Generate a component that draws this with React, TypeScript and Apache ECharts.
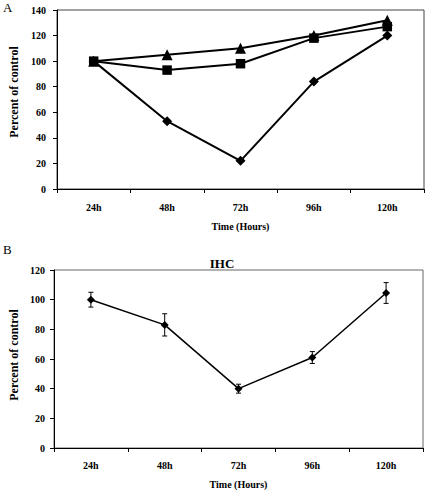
import React, { useEffect, useRef } from "react";
import * as echarts from "echarts";

const categories = ["24h", "48h", "72h", "96h", "120h"];
const diamondA = [100, 53, 22, 84, 120];
const squareA = [100, 93, 98, 118, 127];
const triangleA = [100, 105, 110, 120, 132];
const ihcMean = [100, 83, 40, 61, 104.5];
const ihcErr = [5, 7.5, 3, 4, 7];
const yTicksA = { min: 0, max: 140, interval: 20 };
const yTicksB = { min: 0, max: 120, interval: 20 };

const FONT = "'Liberation Serif', 'DejaVu Serif', serif";

export default function App() {
  const ref = useRef<HTMLDivElement>(null);
  useEffect(() => {
    if (!ref.current) return;
    const chart = echarts.init(ref.current, null, { renderer: "svg" });
    const labelStyle = { fontFamily: FONT, fontWeight: "bold" as const, fontSize: 10, color: "#000" };
    const xAxisCommon = (gridIndex: number, margin: number, gap: number) => ({
      type: "category" as const,
      gridIndex,
      data: categories,
      boundaryGap: true,
      axisLine: { show: true, lineStyle: { color: "#000", width: 1 } },
      axisTick: { show: true, length: 4, inside: false, lineStyle: { color: "#000" }, alignWithLabel: false },
      axisLabel: { ...labelStyle, margin, interval: 0 },
      name: "Time (Hours)",
      nameLocation: "middle" as const,
      nameGap: gap,
      nameTextStyle: { ...labelStyle },
    });
    const yAxisCommon = (gridIndex: number, t: any, margin: number) => ({
      type: "value" as const,
      gridIndex,
      min: t.min,
      max: t.max,
      interval: t.interval,
      axisLine: { show: true, lineStyle: { color: "#000", width: 1 } },
      axisTick: { show: true, length: 4, lineStyle: { color: "#000" } },
      axisLabel: { ...labelStyle, margin },
      splitLine: { show: false },
    });
    const errData = ihcMean.map((m, i) => [i, m - ihcErr[i], m + ihcErr[i]]);
    chart.setOption({
      animation: false,
      backgroundColor: "#fff",
      grid: [
        { left: 57, top: 10, width: 367, height: 179, show: true, borderColor: "#444", borderWidth: 1, backgroundColor: "transparent" },
        { left: 54, top: 270, width: 369, height: 179.3, show: true, borderColor: "#666", borderWidth: 1, backgroundColor: "transparent" },
      ],
      xAxis: [xAxisCommon(0, 13, 32), xAxisCommon(1, 12, 31)],
      yAxis: [yAxisCommon(0, yTicksA, 11), yAxisCommon(1, yTicksB, 9)],
      graphic: [
        { type: "text", left: 3, top: 1, style: { text: "A", fontFamily: FONT, fontSize: 13, fill: "#000" } },
        { type: "text", left: 3, top: 243, style: { text: "B", fontFamily: FONT, fontSize: 13, fill: "#000" } },
        { type: "text", x: 222, y: 263, style: { text: "IHC", fontFamily: FONT, fontWeight: "bold", fontSize: 13, fill: "#000", align: "center", verticalAlign: "middle" } },
        { type: "text", x: 14, y: 92, rotation: Math.PI / 2, style: { text: "Percent of control", fontFamily: FONT, fontWeight: "bold", fontSize: 12, fill: "#000", align: "center", verticalAlign: "middle" } },
        { type: "text", x: 13.5, y: 355, rotation: Math.PI / 2, style: { text: "Percent of control", fontFamily: FONT, fontWeight: "bold", fontSize: 12, fill: "#000", align: "center", verticalAlign: "middle" } },
      ],
      series: [
        {
          type: "line", xAxisIndex: 0, yAxisIndex: 0, data: triangleA,
          symbol: "triangle", symbolSize: 11, showAllSymbol: true,
          lineStyle: { color: "#000", width: 2 }, itemStyle: { color: "#000" },
        },
        {
          type: "line", xAxisIndex: 0, yAxisIndex: 0, data: squareA,
          symbol: "rect", symbolSize: 9.5,
          lineStyle: { color: "#000", width: 2 }, itemStyle: { color: "#000" },
        },
        {
          type: "line", xAxisIndex: 0, yAxisIndex: 0, data: diamondA,
          symbol: "diamond", symbolSize: 10,
          lineStyle: { color: "#000", width: 2 }, itemStyle: { color: "#000" },
        },
        {
          type: "custom", xAxisIndex: 1, yAxisIndex: 1, data: errData,
          renderItem: (params: any, api: any) => {
            const x = api.value(0);
            const lo = api.coord([x, api.value(1)]);
            const hi = api.coord([x, api.value(2)]);
            const w = 2.5;
            const st = { stroke: "#000", lineWidth: 1 };
            return {
              type: "group",
              children: [
                { type: "line", shape: { x1: lo[0], y1: lo[1], x2: hi[0], y2: hi[1] }, style: st },
                { type: "line", shape: { x1: lo[0] - w, y1: lo[1], x2: lo[0] + w, y2: lo[1] }, style: st },
                { type: "line", shape: { x1: hi[0] - w, y1: hi[1], x2: hi[0] + w, y2: hi[1] }, style: st },
              ],
            };
          },
          z: 1,
        },
        {
          type: "line", xAxisIndex: 1, yAxisIndex: 1, data: ihcMean,
          symbol: "diamond", symbolSize: 8,
          lineStyle: { color: "#000", width: 1.5 }, itemStyle: { color: "#000" }, z: 3,
        },
      ],
    });
    return () => chart.dispose();
  }, []);
  return <div ref={ref} style={{ position: "absolute", left: 0, top: 0, width: 426, height: 490 }} />;
}
